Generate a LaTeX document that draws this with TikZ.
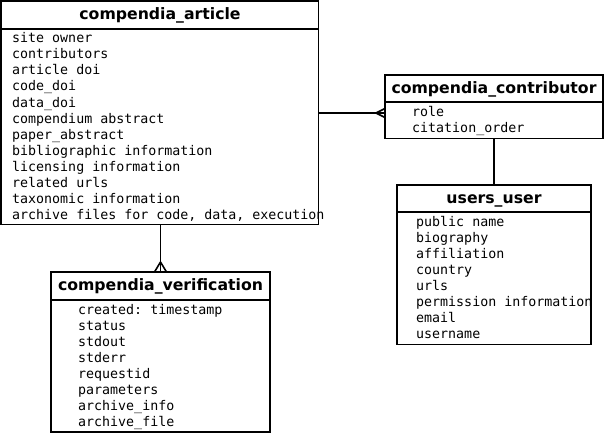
\documentclass[tikz,border=0pt]{standalone}
\usepackage{fontspec}
\setmainfont{DejaVu Sans}
\setmonofont{DejaVu Sans Mono}
\tikzset{
  entity/.style={draw, line width=1.6pt, inner sep=0pt, outer sep=0pt, anchor=north west},
  etitle/.style={font=\bfseries\fontsize{15.7}{18}\selectfont, anchor=base, inner sep=0pt},
  efield/.style={font=\ttfamily\fontsize{13.3}{16}\selectfont, anchor=base west, inner sep=0pt},
  rel/.style={line width=1.6pt},
}
\newcommand\entfields[4]{%
  \foreach [count=\i] \t in {#4} {\node[efield] (#1-\i) at (#2, #3+16*\i-16) {\t};}}
\begin{document}
\begin{tikzpicture}[x=1pt,y=-1pt]
\useasboundingbox (0,0) rectangle (604,433);
% compendia_article
\node[entity, minimum width=317.5pt, minimum height=223.5pt] (art) at (1,1) {};
\node[etitle] (art-t) at (160,19.5) {compendia\_article};
\draw[rel] (art.west |- 0,29) -- (art.east |- 0,29);
\entfields{art}{12}{43}{site owner, contributors, article doi, code\_doi, data\_doi, compendium abstract, paper\_abstract, bibliographic information, licensing information, related urls, taxonomic information, {archive files for code, data, execution}}
% compendia_contributor
\node[entity, minimum width=218pt, minimum height=63.5pt] (con) at (385,75) {};
\node[etitle] (con-t) at (494,93.5) {compendia\_contributor};
\draw[rel] (con.west |- 0,102) -- (con.east |- 0,102);
\entfields{con}{412}{116}{role, citation\_order}
% users_user
\node[entity, minimum width=194pt, minimum height=159.5pt] (usr) at (397,185) {};
\node[etitle] (usr-t) at (494,203.5) {users\_user};
\draw[rel] (usr.west |- 0,212) -- (usr.east |- 0,212);
\entfields{usr}{416}{226}{public name, biography, affiliation, country, urls, permission information, email, username}
% compendia_verification
\node[entity, minimum width=219pt, minimum height=160pt] (ver) at (51,272) {};
\node[etitle] (ver-t) at (160.5,290.5) {compendia\_verification};
\draw[rel] (ver.west |- 0,300) -- (ver.east |- 0,300);
\entfields{ver}{78}{314}{created: timestamp, status, stdout, stderr, requestid, parameters, archive\_info, archive\_file}
% connectors
\coordinate (c1) at (con.west |- 0,113);
\draw[rel] (art.east |- c1) -- (c1);
\draw[rel] ([xshift=-9pt]c1) -- ([yshift=4.5pt]c1) ([xshift=-9pt]c1) -- ([yshift=-4.5pt]c1);
\draw[rel] (art.south -| ver.north) -- (ver.north);
\draw[rel] ([yshift=10pt]ver.north) -- ([xshift=-6pt]ver.north) ([yshift=10pt]ver.north) -- ([xshift=6pt]ver.north);
\draw[rel] (con.south) -- (usr.north);
\end{tikzpicture}
\end{document}
